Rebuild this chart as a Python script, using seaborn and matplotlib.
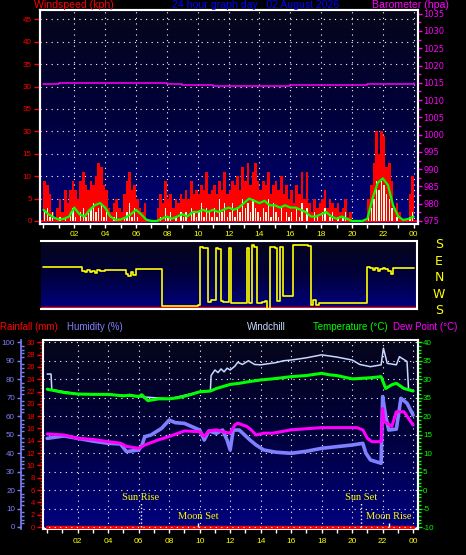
import numpy as np
import matplotlib
matplotlib.use("Agg")
import matplotlib.pyplot as plt
import matplotlib.transforms as mtransforms
import seaborn as sns
from matplotlib.colors import LinearSegmentedColormap
from matplotlib.ticker import MultipleLocator, FixedLocator

# ---------------- data ----------------
hour_ticks = [2, 4, 6, 8, 10, 12, 14, 16, 18, 20, 22, 24]
hour_labels = ["02", "04", "06", "08", "10", "12", "14", "16", "18", "20", "22", "00"]

# wind gust (kph), one value per 10 minutes
wind_gust = [
    9, 8, 6, 2, 1, 3,   5, 2, 7, 4, 7, 9,   7, 5, 9, 11, 8, 7,   9, 8, 10, 13, 12, 8,
    7, 3, 2, 4, 5, 3,   2, 6, 9, 11, 7, 8,   5, 3, 2, 4, 0, 0,   0, 0, 3, 6, 4, 9,
    5, 6, 3, 5, 4, 6,   5, 7, 5, 9, 6, 7,   6, 8, 7, 11, 6, 7,   8, 6, 9, 7, 11, 6,
    7, 9, 8, 10, 7, 12,  9, 13, 8, 11, 13, 9,  7, 9, 8, 11, 6, 8,  9, 7, 10, 6, 8, 5,
    7, 4, 8, 6, 11, 5,  11, 4, 2, 5, 3, 4,  5, 7, 3, 5, 4, 3,   4, 2, 3, 5, 1, 2,
    0, 0, 0, 0, 0, 0,   5, 8, 13, 20, 15, 20,  19, 12, 13, 9, 3, 4,  2, 0, 0, 0, 6, 10,
]
# wind speed (kph), one value per 10 minutes
wind_speed = [
    2, 3, 1, 2, 0, 0,   1, 0, 1, 0, 2, 3,   1, 0, 2, 3, 1, 2,   3, 4, 2, 3, 4, 1,
    2, 0, 0, 1, 2, 0,   0, 1, 2, 4, 1, 3,   1, 0, 0, 0, 0, 0,   0, 0, 0, 1, 0, 3,
    1, 2, 0, 1, 0, 2,   1, 2, 0, 3, 2, 1,   2, 4, 1, 3, 2, 1,   3, 1, 5, 2, 4, 1,
    2, 4, 1, 3, 2, 5,   3, 4, 2, 5, 3, 2,   1, 3, 2, 5, 1, 4,   2, 1, 3, 0, 2, 1,
    2, 0, 3, 1, 4, 0,   3, 0, 0, 2, 1, 0,   2, 3, 0, 1, 2, 0,   1, 0, 1, 2, 0, 0,
    0, 0, 0, 0, 0, 0,   1, 3, 5, 9, 7, 9,   8, 6, 5, 3, 0, 1,   0, 0, 0, 0, 1, 2,
]
# average wind (kph), one value per 20 minutes
wind_avg = [
    2.5, 1.5, 0.8,  0.3, 0.5, 1.0,  3.0, 1.5, 1.0,  2.5, 3.5, 4.0,
    3.0, 1.0, 0.3,  0.3, 0.8, 1.5,  2.5, 1.5, 0.3,  0.0, 0.0, 0.5,
    1.0, 0.5, 1.0,  1.5, 1.0, 2.0,  2.0, 2.5, 2.0,  2.5, 2.0, 2.5,
    3.0, 2.5, 3.0,  4.0, 5.0, 4.5,  4.0, 4.5, 3.5,  3.5, 3.0, 3.5,
    3.0, 3.0, 2.5,  2.0, 1.0, 1.0,  1.5, 2.0, 1.0,  0.5, 1.0, 0.5,
    0.0, 0.0, 0.0,  0.5, 5.0, 8.5,  9.5, 8.0, 3.5,  1.0, 0.2, 0.5,  1.0,
]
# barometer (hpa), hourly
baro_hpa = [1014.6, 1014.9, 1014.9, 1015.0, 1015.0, 1015.0, 1014.9, 1014.8, 1014.6,
            1014.4, 1014.3, 1014.2, 1014.1, 1014.1, 1014.2, 1014.2, 1014.3, 1014.4,
            1014.4, 1014.5, 1014.5, 1014.6, 1014.6, 1014.6, 1014.9]
# wind direction (degrees), one value per 10 minutes
wind_dir = [
    58, 58, 58, 58, 58, 58,   58, 58, 58, 58, 58, 58,   58, 58, 58, 40, 30, 45,
    35, 40, 28, 42, 38, 36,   44, 44, 44, 44, 44, 44,   44, 44, 20, 10, 35, 18,
    49, 49, 49, 49, 49, 49,   49, 49, 49, 49, 209, 209,  209, 209, 209, 209, 209, 209,
    209, 209, 209, 209, 209, 209,  215, 170, 165, 165, 230, 240,  240, 165, 160, 235, 231, 231,
    165, 225, 222, 222, 222, 222,  222, 165, 225, 178, 170, 225,  222, 230, 235, 180, 170, 170,
    165, 232, 168, 262, 262, 262,  262, 178, 178, 178, 178, 178,  178, 175, 215, 240, 215, 225,
    225, 225, 225, 225, 225, 225,  225, 225, 225, 225, 225, 225,  225, 225, 225, 225, 225, 225,
    60, 52, 45, 55, 40, 50,   55, 48, 40, 20, 53, 53,   53, 53, 53, 53, 53, 53,  53,
]
compass_labels = ["S", "W", "N", "E", "S"]
compass_values = [180, 270, 360, 450, 540]

temp_hours = [0, 1.1, 2, 3, 4, 5, 5.4, 6, 6.2, 6.6, 7.3, 8, 8.6, 9.2, 10, 10.7, 11.1, 12,
              12.6, 13.3, 14, 15, 16, 17, 18, 18.5, 19, 20, 20.5, 21.2, 21.9, 22.2, 22.6,
              22.9, 23.4, 24]
temp_c = [27.3, 26.4, 26.0, 25.9, 25.9, 25.5, 25.7, 25.3, 25.8, 24.2, 24.7, 24.7, 25.0,
          25.6, 26.6, 26.8, 27.5, 28.6, 28.9, 29.4, 29.8, 30.2, 30.7, 31.0, 31.6, 31.2,
          31.0, 30.1, 30.2, 30.4, 30.7, 27.5, 28.5, 28.9, 27.5, 26.8]

chill_hours = [0, 0.25, 0.3, 2, 4, 6, 8, 10, 10.7, 10.75, 11.0, 11.2, 11.4, 11.6, 11.8,
               12.0, 12.3, 12.5, 12.8, 13.2, 13.6, 14.0, 14.5, 15, 15.5, 16, 17, 18,
               18.5, 19, 20, 20.5, 21.2, 21.9, 22.05, 22.3, 22.9, 23.1, 23.6, 23.7, 24]
chill_c = [31.4, 31.4, 27.2, 26.0, 25.9, 25.3, 24.7, 26.6, 26.8, 31.0, 32.5, 31.8, 32.8,
           32.0, 33.0, 32.5, 33.5, 34.6, 34.0, 35.0, 34.0, 33.9, 34.2, 34.5, 35.0, 35.2,
           35.8, 36.6, 36.3, 36.0, 35.2, 34.0, 33.4, 33.9, 38.4, 34.3, 33.9, 36.1, 34.8,
           27.2, 26.8]

dew_hours = [0, 1.1, 2, 3, 4, 4.8, 5.2, 6, 6.4, 7.3, 8, 9, 10, 10.3, 10.6, 11.1, 11.5, 12,
             12.3, 12.5, 13.1, 13.4, 13.7, 14.2, 14.8, 16, 17, 18, 19, 20.3, 20.7, 21.0,
             21.3, 21.9, 22.0, 22.1, 22.3, 22.6, 22.9, 23.4, 24]
dew_c = [15.2, 14.9, 14.0, 13.7, 13.1, 12.7, 11.8, 11.3, 12.2, 13.6, 14.5, 16.0, 15.8,
         14.5, 16.0, 16.3, 15.8, 15.4, 17.6, 18.1, 17.2, 16.2, 14.9, 15.4, 15.4, 16.3,
         16.6, 16.9, 16.9, 16.9, 16.3, 14.0, 13.1, 13.1, 22.1, 18.5, 18.1, 17.2, 21.2,
         21.2, 17.6]

hum_hours = [0, 1.1, 2, 3, 4, 4.8, 5.2, 6, 6.2, 6.4, 6.8, 7.5, 8, 8.4, 9, 9.5, 10, 10.3,
             10.6, 11.1, 11.5, 11.8, 12, 12.2, 12.6, 13.3, 13.7, 14.2, 15, 16, 17, 18, 19,
             20, 20.7, 20.9, 21.2, 21.9, 22.0, 22.2, 22.4, 22.9, 23.2, 23.6, 24]
hum_pct = [48.0, 49.3, 48.0, 46.5, 45.3, 45.0, 40.8, 41.7, 44.0, 48.9, 49.8, 53.4, 57.9,
           56.5, 56.1, 54.3, 52.5, 47.1, 52.0, 50.7, 52.5, 47.0, 41.7, 52.5, 52.5, 47.1,
           44.4, 41.7, 40.5, 39.9, 41.0, 42.6, 43.5, 44.4, 45.3, 40.0, 36.3, 34.5, 70.6,
           60.0, 52.5, 53.0, 69.7, 67.0, 60.6]

rain_hours = [0, 24]
rain_mm = [0, 0]

wind_ticks = [0, 5, 10, 15, 20, 25, 30, 35, 40, 45]
wind_tick_labels = ["0", "5", "10", "15", "30", "35", "30", "35", "40", "45"]
baro_ticks = [975, 980, 985, 990, 995, 1000, 1005, 1010, 1015, 1020, 1025, 1030, 1035]
rain_ticks = list(range(0, 31, 2))
hum_ticks = list(range(0, 101, 10))
temp_ticks = [-10, -5, 0, 5, 10, 15, 20, 25, 30, 35, 40]
temp_tick_labels = ["-10", "-5", "0", "5", "10", "15", "20", "35", "30", "35", "40"]

events = ["Sun Rise", "Moon Set", "Sun Set", "Moon Rise"]
event_hours = [6.15, 9.9, 20.6, 22.4]

# ---------------- style ----------------
sns.set_theme(style="ticks")
plt.rcParams['font.family'] = ['Liberation Sans', 'DejaVu Sans']
plt.rcParams['axes.unicode_minus'] = False

W, H = 466, 555
fig = plt.figure(figsize=(W / 100, H / 100), dpi=100, facecolor='black')

RED, MAG, YEL, GRN = '#ff0000', '#ff00ff', '#ffff00', '#00ff00'
HUMC, CHILLC = '#8080ff', '#c8d8ff'
BG = LinearSegmentedColormap.from_list("bg", ["#000080", "#00003c", "#06061a"])
grad = np.linspace(0, 1, 256).reshape(-1, 1)
DOT = (0, (1, 4))


def panel(l, t, r, b):
    ax = fig.add_axes([l / W, 1 - b / H, (r - l) / W, (b - t) / H])
    ax.set_facecolor('black')
    ax.imshow(grad, extent=[0, 1, 0, 1], transform=ax.transAxes, cmap=BG,
              origin='lower', aspect='auto', zorder=0, interpolation='bilinear')
    for s in ax.spines.values():
        s.set_color('white')
        s.set_linewidth(1.5)
    return ax


def px(x, y):
    return x / W, 1 - y / H


# ---------------- top panel: wind + barometer ----------------
ax1 = panel(40, 10, 418, 224)
t10 = np.arange(len(wind_gust)) / 6
ax1.bar(t10, wind_gust, width=1 / 6, align='edge', color=RED, linewidth=0, zorder=2)
ax1.bar(t10 + 0.04, wind_speed, width=0.09, align='edge', color='#e6ffe6', linewidth=0, zorder=3)
ax1.axhline(0, color=RED, lw=1.5, zorder=2.5)
sns.lineplot(x=np.arange(len(wind_avg)) / 3, y=wind_avg, ax=ax1, color=GRN, lw=1.6,
             legend=False, zorder=4)
ax1.set_xlim(-0.22, 24.28)
ax1.set_ylim(-0.67, 47.07)
ax1.xaxis.set_major_locator(FixedLocator(hour_ticks))
ax1.set_xticklabels(hour_labels)
ax1.xaxis.set_minor_locator(MultipleLocator(1))
ax1.set_yticks(wind_ticks)
ax1.set_yticklabels(wind_tick_labels)
ax1.tick_params(axis='x', which='both', colors='white', labelcolor=YEL, labelsize=6,
                length=3, width=1, pad=2)
ax1.tick_params(axis='y', colors=RED, labelcolor=RED, labelsize=5.8, length=4, width=1, pad=2)
ax1.grid(True, which='major', color='white', linestyle=DOT, linewidth=0.8)
ax1.set_xlabel('')
ax1.set_ylabel('')

ax1b = ax1.twinx()
sns.lineplot(x=np.arange(len(baro_hpa)), y=baro_hpa, ax=ax1b, color=MAG, lw=1.1,
             drawstyle='steps-post', legend=False)
ax1b.set_ylim(974.13, 1036.07)
ax1b.set_yticks(baro_ticks)
ax1b.yaxis.set_minor_locator(MultipleLocator(2.5))
ax1b.tick_params(axis='y', which='both', colors=MAG, labelcolor=MAG, labelsize=6,
                 length=3, width=1, pad=1)
ax1b.tick_params(axis='y', which='minor', length=2)
for lab in ax1b.get_yticklabels():
    lab.set_family('DejaVu Sans')
for s in ax1b.spines.values():
    s.set_color('white')
    s.set_linewidth(1.5)
ax1b.set_ylabel('')

# ---------------- middle panel: wind direction ----------------
ax2 = panel(40.7, 241, 417.3, 309)
dir_plot = [d if d >= 180 else d + 360 for d in wind_dir]
sns.lineplot(x=np.arange(len(dir_plot)) / 6, y=dir_plot, ax=ax2, color=YEL, lw=1.2,
             drawstyle='steps-post', legend=False, zorder=3)
ax2.axhline(196, color=RED, lw=1.6, zorder=2)
ax2.set_xlim(-0.175, 24.23)
ax2.set_ylim(190.9, 561.8)
ax2.set_xticks([])
ax2.set_yticks([])
ax2.spines['left'].set_visible(False)
ax2.set_xlabel('')
ax2.set_ylabel('')
tr = mtransforms.blended_transform_factory(fig.transFigure, ax2.transData)
for v, lab in zip(compass_values, compass_labels):
    ax2.text(439 / W, v, lab, transform=tr, color=YEL, fontsize=9, ha='center',
             va='center', family='DejaVu Sans', clip_on=False)

# ---------------- bottom panel: rain / humidity / temperature ----------------
ax3 = panel(42.5, 340, 417.7, 529.3)
sns.lineplot(x=rain_hours, y=rain_mm, ax=ax3, color=RED, lw=2.5, legend=False, zorder=3)
ax3.set_xlim(-0.31, 24.3)
ax3.set_ylim(-0.37, 30.37)
ax3.xaxis.set_major_locator(FixedLocator(hour_ticks))
ax3.set_xticklabels(hour_labels)
ax3.xaxis.set_minor_locator(MultipleLocator(1))
ax3.set_yticks(rain_ticks)
ax3.yaxis.set_minor_locator(MultipleLocator(0.5))
ax3.tick_params(axis='x', which='both', colors='white', labelcolor=YEL, labelsize=6,
                length=3, width=1, pad=3)
ax3.tick_params(axis='y', which='both', colors=RED, labelcolor=RED, labelsize=5.5,
                length=4, width=1, pad=1.2)
ax3.tick_params(axis='y', which='minor', length=2)
ax3.grid(True, axis='x', which='major', color='white', linestyle=DOT, linewidth=0.8)
ax3.set_xlabel('')
ax3.set_ylabel('')

# sun / moon events
ev_top = [3.9, 0.7, 3.9, 0.7]
ev_style = [':', '-', ':', '-']
ev_text_y = [4.75, 1.67, 4.75, 1.67]
for name, h, top, ls, ty in zip(events, event_hours, ev_top, ev_style, ev_text_y):
    ax3.vlines(h, 0, top, colors='white', linestyles=ls, lw=1.0, zorder=4)
    ax3.text(h, ty, name, color=YEL, fontsize=7.5, family='Liberation Serif',
             ha='center', va='center', zorder=5)

ax3h = ax3.twinx()
sns.lineplot(x=hum_hours, y=hum_pct, ax=ax3h, color=HUMC, lw=2.6, legend=False)
ax3h.set_ylim(-1.25, 101.25)
ax3h.yaxis.tick_left()
ax3h.yaxis.set_label_position('left')
ax3h.spines['left'].set_position(('outward', 15.3))
ax3h.spines['left'].set_color(HUMC)
ax3h.spines['left'].set_linewidth(1.2)
for k in ['right', 'top', 'bottom']:
    ax3h.spines[k].set_visible(False)
ax3h.set_yticks(hum_ticks)
ax3h.yaxis.set_minor_locator(MultipleLocator(2))
ax3h.tick_params(axis='y', which='major', colors=HUMC, labelcolor=HUMC, labelsize=5.8,
                 length=3, width=1, pad=1.5)
ax3h.tick_params(axis='y', which='minor', colors=HUMC, direction='in', length=2, width=1)
ax3h.grid(True, axis='y', which='major', color='white', linestyle=DOT, linewidth=0.8)
ax3h.set_ylabel('')

ax3t = ax3.twinx()
sns.lineplot(x=chill_hours, y=chill_c, ax=ax3t, color=CHILLC, lw=1.1, legend=False)
sns.lineplot(x=temp_hours, y=temp_c, ax=ax3t, color=GRN, lw=2.2, legend=False)
sns.lineplot(x=dew_hours, y=dew_c, ax=ax3t, color=MAG, lw=2.2, legend=False)
ax3t.set_ylim(-10.62, 40.62)
ax3t.set_yticks(temp_ticks)
ax3t.set_yticklabels(temp_tick_labels)
ax3t.yaxis.set_minor_locator(MultipleLocator(1))
ax3t.tick_params(axis='y', which='both', colors=GRN, labelcolor=GRN, labelsize=5.8,
                 length=3, width=1, pad=0.8)
ax3t.tick_params(axis='y', which='minor', length=2)
for s in ['left', 'top', 'bottom']:
    ax3t.spines[s].set_visible(False)
ax3t.spines['right'].set_color('white')
ax3t.spines['right'].set_linewidth(1.5)
ax3t.set_ylabel('')

# ---------------- header texts ----------------
fig.text(*px(34, 5.5), "Windspeed (kph)", color=RED, fontsize=7.6, va='center', ha='left')
fig.text(*px(256, 5.5), "24 hour graph day : 02 August 2026", color='#0000ff', fontsize=7.6,
         va='center', ha='center')
fig.text(*px(372, 5.5), "Barometer (hpa)", color=MAG, fontsize=7.6, va='center', ha='left')

row2 = 327.3
fig.text(*px(0, row2), "Rainfall (mm)", color=RED, fontsize=7, va='center', ha='left')
fig.text(*px(66.7, row2), "Humidity (%)", color=HUMC, fontsize=7, va='center', ha='left')
fig.text(*px(246.7, row2), "Windchill", color=CHILLC, fontsize=7, va='center', ha='left')
fig.text(*px(313.3, row2), "Temperature (°C)", color=GRN, fontsize=7, va='center', ha='left')
fig.text(*px(392.7, row2), "Dew Point (°C)", color=MAG, fontsize=7, va='center', ha='left')

fig.savefig("out.png", dpi=100, facecolor='black')
